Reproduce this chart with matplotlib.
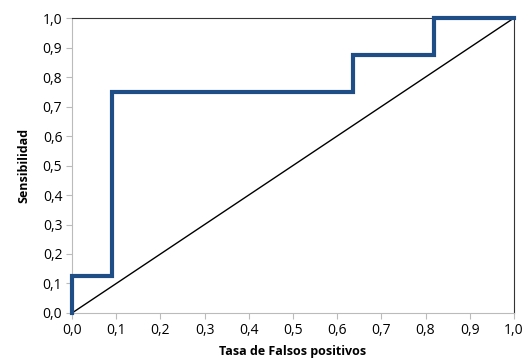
import matplotlib
matplotlib.use("Agg")
import matplotlib.pyplot as plt
import numpy as np

# curva ROC (escalones) y diagonal de referencia
fpr = [0.0, 0.0, 0.0909, 0.0909, 0.6364, 0.6364, 0.8182, 0.8182, 1.0]
tpr = [0.0, 0.125, 0.125, 0.75, 0.75, 0.875, 0.875, 1.0, 1.0]
diag = [0.0, 1.0]
ticks = np.round(np.arange(0, 1.01, 0.1), 1)
tick_labels = [f"{t:.1f}".replace(".", ",") for t in ticks]

plt.rcParams['font.family'] = ['Open Sans', 'DejaVu Sans']

fig = plt.figure(figsize=(5.26, 3.61), dpi=100)
ax = fig.add_axes([0.137, 0.133, 0.840, 0.817])

ax.plot(diag, diag, color='black', lw=1.0, zorder=2)
ax.plot(fpr, tpr, color='#1F4E87', lw=3.0, solid_joinstyle='miter', zorder=3, clip_on=False)

ax.set_xlim(0, 1)
ax.set_ylim(0, 1)
ax.set_xticks(ticks)
ax.set_yticks(ticks)
ax.set_xticklabels(tick_labels, fontsize=10)
ax.set_yticklabels(tick_labels, fontsize=10)

for s in ['left', 'bottom']:
    ax.spines[s].set_color('#BBBBBB')
for s in ['top', 'right']:
    ax.spines[s].set_color('#333333')
ax.tick_params(direction='out', length=4, color='#BBBBBB', pad=3)

ax.set_xlabel('Tasa de Falsos positivos', fontsize=9, fontweight='bold', labelpad=5)
ax.set_ylabel('Sensibilidad', fontsize=9, fontweight='bold', labelpad=9)

fig.savefig('out.png', dpi=100)
